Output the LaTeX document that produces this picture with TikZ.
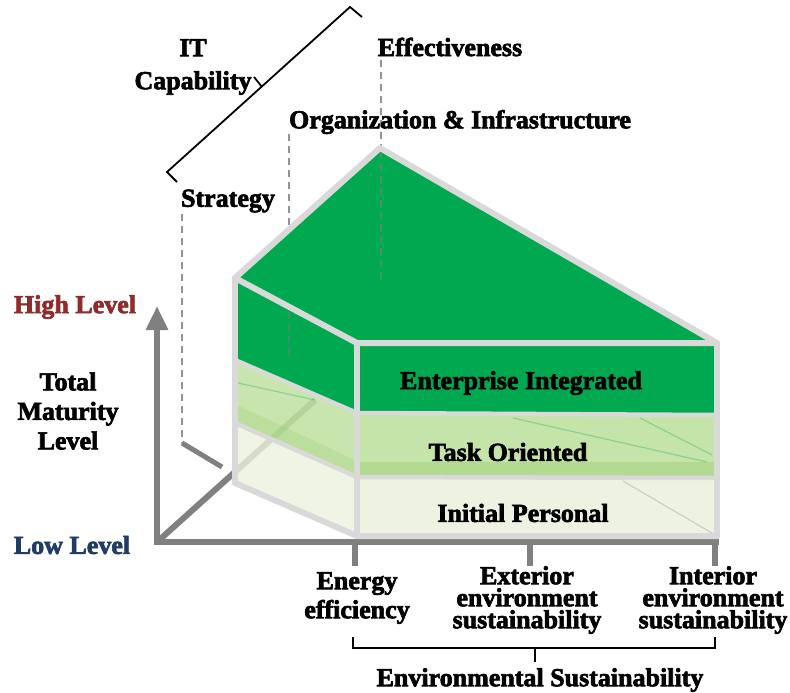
\documentclass[tikz,border=0pt]{standalone}
\usepackage{fontspec}
\newfontfamily\heavyserif{Liberation Serif}[UprightFont={* Bold}, FakeBold=2.5]
\usetikzlibrary{arrows.meta}
\definecolor{leafdark}{HTML}{00A84F}
\definecolor{leaflight}{HTML}{BFE1A0}
\definecolor{leafpale}{HTML}{EBF1DE}
\definecolor{leafstrip}{HTML}{A6D482}
\definecolor{rim}{HTML}{D9D9D9}
\definecolor{axisgray}{HTML}{808080}
\definecolor{highred}{HTML}{8E2B2B}
\definecolor{lowblue}{HTML}{1F3B66}
\begin{document}
\begin{tikzpicture}[x=1pt,y=-1pt,
  lbl/.style={font=\fontsize{26}{29}\heavyserif, inner sep=0pt, align=center},
  tight/.style={font=\fontsize{26}{22}\heavyserif, inner sep=0pt, align=center},
  guide/.style={draw=axisgray!85, line width=1.6pt, dash pattern=on 7pt off 5pt},
  axisline/.style={draw=axisgray, line width=6pt},
  rimline/.style={draw=rim, line width=6pt, line join=round, line cap=round},
  bandline/.style={draw=rim, line width=4.5pt},
  ghost/.style={line width=1.2pt, opacity=0.3},
  bracket/.style={draw=black, line width=1.8pt, line join=miter}
]
\useasboundingbox (0,0) rectangle (790,693);

% corners of the prism
\coordinate (apex) at (380,148);
\coordinate (tl) at (235,278);
\coordinate (tf) at (357,343);
\coordinate (tr) at (717,343);
\coordinate (bl) at (235,483);
\coordinate (bf) at (357,536);
\coordinate (br) at (717,536);

% dimension guides behind the prism
\draw[guide] (182,214) -- (182,443);
\draw[guide] (289,134) -- (289,229);
\draw[guide] (381,60) -- (381,148);
\draw[axisgray, line width=5pt] (182,443) -- (222,467);

% axes
\draw[axisline] (157,542) -- (315,400);
\draw[axisline, line join=miter, -{Triangle[width=21pt,length=24pt]}]
  (719,542) -- (157,542) -- (157,306);
\foreach \x in {355,530,715} \draw[axisline] (\x,542) -- (\x,566);

% lowest layer: Initial Personal
\fill[leafpale, opacity=0.8] (235,423) -- (357,477) -- (357,536) -- (235,483) -- cycle;
\fill[leafpale, opacity=0.9] (357,478) rectangle (717,536);
% middle layer: Task Oriented
\fill[leaflight, opacity=0.85] (235,360) -- (357,413) -- (357,477) -- (235,423) -- cycle;
\fill[leaflight, opacity=0.9] (357,415) rectangle (717,478);
\fill[leafstrip, opacity=0.4] (235,404) -- (357,461) -- (357,477) -- (235,423) -- cycle;
\fill[leafstrip, opacity=0.6] (357,462) rectangle (717,478);
% top layer: Enterprise Integrated
\fill[leafdark] (tl) -- (tf) -- (357,413) -- (235,360) -- cycle;
\fill[leafdark] (357,343) rectangle (717,415);
\fill[leafdark] (apex) -- (tr) -- (tf) -- (tl) -- cycle;

% inner edges seen through the lower layers
\draw[ghost, leafdark] (238,383) -- (315,400);
\draw[ghost, leafdark] (513,418) -- (707,462);
\draw[ghost, leafdark] (640,418) -- (712,455);
\draw[ghost, axisgray] (623,481) -- (717,536);

% rims of the prism
\draw[bandline] (235,360) -- (357,413) -- (717,415);
\draw[bandline] (235,423) -- (357,477) -- (717,478);
\draw[rimline] (bl) -- (bf) -- (br);
\draw[rimline] (tl) -- (bl);
\draw[rimline] (tf) -- (bf);
\draw[rimline] (tr) -- (br);
\draw[rimline] (apex) -- (tr) -- (tf) -- (tl) -- cycle;

% guides showing through the green
\draw[guide, draw=axisgray, opacity=0.6] (381,152) -- (381,283);
\draw[guide, draw=axisgray, opacity=0.45] (289,312) -- (289,360);

% labels
\node[lbl, font=\fontsize{26}{33}\heavyserif] (itcap) at (193,67) {IT\\Capability};
\node[lbl] (effect) at (450,47) {Effectiveness};
\node[lbl] (orginf) at (460,122) {Organization \& Infrastructure};
\node[lbl] (strat) at (228,201) {Strategy};
\node[lbl, text=highred] (high) at (75,307) {High Level};
\node[lbl, font=\fontsize{26}{29.5}\heavyserif] (total) at (68,411) {Total\\Maturity\\Level};
\node[lbl, text=lowblue] (low) at (72,545) {Low Level};
\node[lbl] (ent) at (521,383) {Enterprise Integrated};
\node[lbl] (task) at (508,452) {Task Oriented};
\node[lbl] (init) at (523,513) {Initial Personal};
\node[lbl] (energy) at (357,598) {Energy\\efficiency};
\node[tight] (ext) at (527,600) {Exterior\\environment\\sustainability};
\node[tight] (int) at (713,600) {Interior\\environment\\sustainability};
\node[lbl] (envsus) at (540,680) {Environmental Sustainability};

% brackets
\draw[bracket] (177,182) -- (167,172) -- (350,7) -- (362,17);
\draw[bracket] (262,87) -- (254,77);
\draw[bracket] (353,637) -- (353,648) -- (715,648) -- (715,637);
\draw[bracket] (535,648) -- (535,662);
\end{tikzpicture}
\end{document}
